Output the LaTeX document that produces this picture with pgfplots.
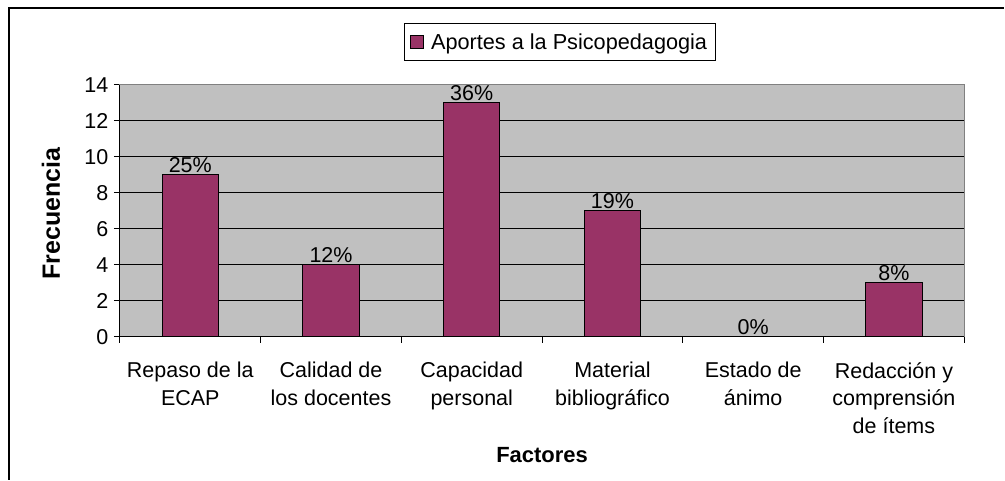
\documentclass[border=0pt]{standalone}
\usepackage{pgfplots}
\pgfplotsset{compat=1.18}
\usepackage{fontspec}
\setmainfont{Liberation Sans}
\definecolor{barcol}{RGB}{153,51,102}
\definecolor{plotbg}{RGB}{192,192,192}
\definecolor{bordergray}{RGB}{128,128,128}
\pgfplotstableread{
x y pct
0 9 25
1 4 12
2 13 36
3 7 19
4 0 0
5 3 8
}\datatab
\begin{document}
\begin{tikzpicture}[x=1pt,y=1pt]
\path (0,0) rectangle (1005,480);
\draw[line width=1.5pt] (9,0) -- (9,472) -- (1005,472);
\begin{axis}[
  at={(120pt,143pt)}, anchor=south west,
  scale only axis, width=845pt, height=252pt,
  xmin=-0.5, xmax=5.5, ymin=0, ymax=14,
  axis background/.style={fill=plotbg},
  axis line style={draw=bordergray, line width=1pt},
  xtick pos=lower, ytick pos=left,
  ytick={0,2,...,14},
  extra y ticks={2,4,...,12},
  extra y tick style={grid=major, major tick length=0pt, yticklabel=\empty},
  grid style={black, line width=1pt},
  xtick={-0.5,0.5,...,5.5},
  xticklabel=\empty,
  extra x ticks={0,1,2,3,4,5},
  extra x tick labels={{Repaso de la\\ECAP},{Calidad de\\los docentes},{Capacidad\\personal},{Material\\bibliográfico},{Estado de\\ánimo},{Redacción y\\comprensión\\de ítems}},
  extra x tick style={major tick length=0pt},
  tick align=outside, major tick length=6pt,
  tick style={black, line width=1pt},
  /pgf/number format/assume math mode=true,
  yticklabel style={font=\fontsize{21.5}{25}\selectfont, xshift=-2pt},
  xticklabel style={font=\fontsize{21.5}{27.5}\selectfont, align=center, anchor=north, yshift=-22pt},
  xlabel={Factores}, ylabel={Frecuencia},
  every axis x label/.style={at={(axis description cs:0.5,-0.468)}, anchor=center, font=\bfseries\fontsize{22}{26}\selectfont},
  every axis y label/.style={at={(axis description cs:-0.0817,0.49)}, anchor=center, rotate=90, font=\bfseries\fontsize{25}{30}\selectfont},
  legend style={at={(axis description cs:0.5207,1.1706)}, anchor=center, draw=black, line width=1pt, fill=white, font=\fontsize{21.7}{25}\selectfont, inner xsep=6pt, inner ysep=8pt},
  legend image code/.code={\draw[fill=barcol, draw=black, line width=1pt] (0pt,-6.5pt) rectangle (13pt,6.5pt);},
  legend cell align=left,
]
\addplot[ybar, bar width=0.4, fill=barcol, draw=black, line width=1pt,
  point meta=explicit,
  nodes near coords={\pgfmathprintnumber{\pgfplotspointmeta}\%},
  nodes near coords style={font=\fontsize{21.5}{25}\selectfont, anchor=south, inner sep=0pt, yshift=2pt, black}]
  table[x=x, y=y, meta=pct] {\datatab};
\addlegendentry{\hspace{5pt}Aportes a la Psicopedagogia}
\end{axis}
\draw[black, line width=1pt] (120,143) -- (120,395);
\draw[black, line width=1pt] (120,143) -- (965,143);
\end{tikzpicture}
\end{document}
